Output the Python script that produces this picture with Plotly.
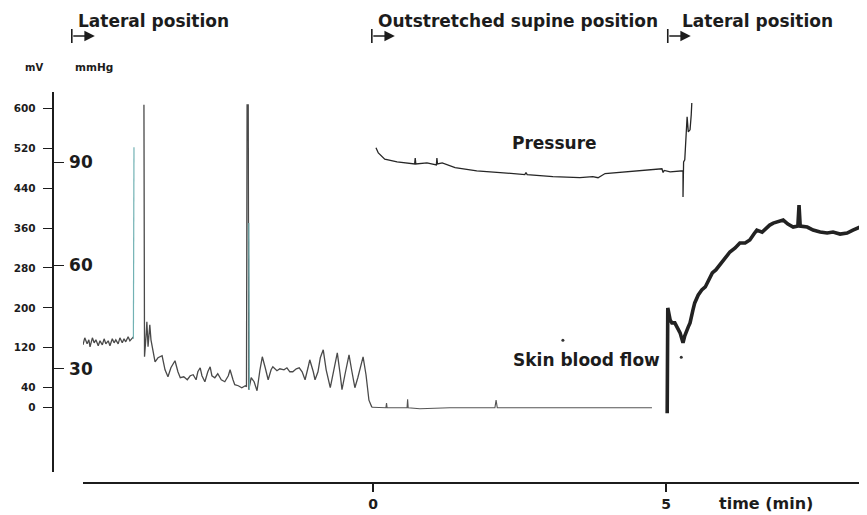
import plotly.graph_objects as go

# ---------------- data ----------------
# time in minutes (0 = change to outstretched supine position)
time_ticks = [0, 5]
mv_ticks = [0, 40, 120, 200, 280, 360, 440, 520, 600]
mmhg_ticks = [0, 30, 60, 90]

# skin blood flow, lateral position before t = 0 (mV)
flow_t_lat1 = [-4.95, -4.92, -4.88, -4.85, -4.83, -4.79, -4.76, -4.73, -4.69, -4.66, -4.62, -4.59,
               -4.56, -4.52, -4.49, -4.45, -4.42, -4.39, -4.35, -4.32, -4.28, -4.25, -4.22, -4.18,
               -4.15, -4.11, -4.09, None,
               -3.91, -3.90, -3.87, -3.86, -3.84, -3.81, -3.79, -3.75, -3.72, -3.67, -3.60, -3.55,
               -3.50, -3.45, -3.38, -3.33, -3.29, -3.23, -3.17, -3.12, -3.07, -3.02, -2.99, -2.95,
               -2.92, -2.87, -2.82, -2.78, -2.75, -2.70, -2.65, -2.59, -2.53, -2.47, -2.44, -2.39,
               -2.36, -2.30, -2.24, -2.18, -2.16, -2.15, -2.13, -2.12, -2.08, -2.03, -1.98, -1.93,
               -1.89, -1.84, -1.79, -1.74, -1.71, -1.64, -1.59, -1.52, -1.47, -1.42, -1.37, -1.31,
               -1.26, -1.21, -1.16, -1.11, -1.08, -1.02, -0.99, -0.94, -0.90, -0.85, -0.80, -0.73,
               -0.68, -0.61, -0.56, -0.53, -0.48, -0.41, -0.36, -0.31, -0.26, -0.17, -0.12, -0.07,
               -0.02]
flow_mv_lat1 = [126, 140, 128, 136, 122, 140, 130, 136, 124, 134, 126, 138,
                128, 134, 124, 138, 130, 136, 128, 140, 130, 138, 132, 142,
                134, 140, 142, None,
                607, 102, 150, 172, 122, 166, 136, 112, 92, 100, 104, 76,
                62, 80, 94, 72, 60, 62, 56, 64, 66, 56, 72, 80,
                64, 52, 72, 82, 64, 60, 68, 56, 52, 64, 76, 56,
                46, 44, 40, 44, 42, 607, 607, 36, 60, 52, 34, 76,
                102, 80, 56, 76, 82, 74, 78, 76, 80, 72, 72, 78,
                80, 72, 56, 80, 96, 72, 56, 72, 100, 116, 76, 40,
                72, 110, 66, 36, 66, 106, 72, 40, 60, 102, 66, 15,
                1]

# skin blood flow, outstretched supine position (mV)
flow_t_sup = [-0.02, 0.12, 0.22, 0.23, 0.24, 0.46, 0.58, 0.59, 0.60, 0.80, 1.31, 2.08, 2.10, 2.12,
              3.02, 3.87, 4.76]
flow_mv_sup = [1, 0, 0, 9, 0, 0, 0, 17, 0, -2, 0, 0, 15, 0, 0, 0, 0]

# skin blood flow, lateral position after t = 5 (mV)
flow_t_lat2 = [5.02, 5.03, 5.07, 5.10, 5.15, 5.20, 5.24, 5.29, 5.32, 5.38, 5.41, 5.46, 5.49, 5.55,
               5.61, 5.67, 5.70, 5.75, 5.79, 5.85, 5.92, 6.01, 6.09, 6.18, 6.26, 6.35, 6.43, 6.50,
               6.55, 6.64, 6.72, 6.77, 6.83, 6.91, 7.00, 7.08, 7.17, 7.25, 7.27, 7.29, 7.41, 7.51,
               7.63, 7.75, 7.85, 7.97, 8.09, 8.19, 8.31, 8.43]
flow_mv_lat2 = [-11, 200, 176, 170, 170, 160, 150, 130, 144, 162, 170, 196, 210, 226,
                236, 242, 250, 260, 270, 276, 286, 300, 312, 320, 330, 330, 336, 348,
                356, 352, 362, 366, 370, 372, 376, 368, 362, 364, 406, 364, 362, 356,
                352, 350, 352, 348, 350, 356, 362, 364]

# fast pen excursions (lighter ink) during the first lateral position (mV)
pen_t = [-4.09, -4.08, None, -2.12, -2.11]
pen_mv = [138, 522, None, 370, 36]

# stray ink dots (mV)
dot_t = [3.24, 5.26]
dot_mv = [135, 101]

# pressure during supine position (mmHg)
press_t = [0.05, 0.09, 0.20, 0.41, 0.71, 0.72, 0.73, 0.92, 1.08, 1.09, 1.10, 1.18, 1.40, 1.77,
           2.17, 2.59, 2.61, 2.63, 3.07, 3.53, 3.75, 3.84, 3.96, 4.27, 4.68, 4.93, 4.95, 4.97,
           5.07, 5.29, 5.29, 5.30, 5.32, 5.34, 5.36, 5.38, 5.41, 5.43, 5.44]
press_mmhg = [94.2, 92.7, 90.9, 90.1, 89.5, 91.2, 89.5, 89.8, 89.2, 91.2, 89.5, 89.8, 88.4, 87.5,
              87.0, 86.4, 87.0, 86.4, 85.8, 85.5, 85.8, 85.5, 86.7, 87.2, 87.8, 88.1, 87.0, 87.6,
              87.2, 87.5, 79.9, 90.1, 90.7, 97.9, 103.2, 98.8, 99.4, 103.7, 107.2]

# position phases (start time in min)
phase_labels = ["Lateral position", "Outstretched supine position", "Lateral position"]
phase_start = [-5.14, -0.02, 5.03]
phase_label_start = [-5.07, 0.05, 5.24]

# ---------------- figure ----------------
OFF = 8                      # page body margin of the html page
SCREEN_W, SCREEN_H = 867, 515
W, H = SCREEN_W - OFF, SCREEN_H - OFF
INK = "#1c1c1c"
FONT = "DejaVu Sans"

X_RANGE = [-4.95, 8.43]
MV_RANGE = [-128.9, 632.7]
MMHG_RANGE = [-0.02, 110.4]
X0_PX, PX_PER_MIN = 373, 58.6     # screen layout of the time axis


def px(p):
    return (p - OFF) / W


def py(p):
    return 1 - (p - OFF) / H


def t_to_paper(t):
    return px(X0_PX + t * PX_PER_MIN)


Y_DOMAIN = [py(472), py(92)]
Y_POS = px(52.5)

fig = go.Figure()
fig.add_trace(go.Scatter(x=flow_t_lat1, y=flow_mv_lat1, mode="lines", connectgaps=False,
                         line=dict(color="#4a4a4a", width=1.3), xaxis="x", yaxis="y"))
fig.add_trace(go.Scatter(x=pen_t, y=pen_mv, mode="lines", connectgaps=False,
                         line=dict(color="#72b2b4", width=1.2), xaxis="x", yaxis="y"))
fig.add_trace(go.Scatter(x=flow_t_sup, y=flow_mv_sup, mode="lines",
                         line=dict(color="#555555", width=1.1), xaxis="x", yaxis="y"))
fig.add_trace(go.Scatter(x=flow_t_lat2, y=flow_mv_lat2, mode="lines",
                         line=dict(color="#222222", width=3.6), xaxis="x", yaxis="y"))
fig.add_trace(go.Scatter(x=dot_t, y=dot_mv, mode="markers",
                         marker=dict(color="#333333", size=3), xaxis="x", yaxis="y"))
fig.add_trace(go.Scatter(x=press_t, y=press_mmhg, mode="lines",
                         line=dict(color="#262626", width=1.3), xaxis="x", yaxis="y2"))

annotations = []
shapes = []
for lab, t0, tl in zip(phase_labels, phase_start, phase_label_start):
    annotations.append(dict(text=lab, x=t_to_paper(tl), y=py(21), xref="paper", yref="paper",
                            xanchor="left", yanchor="middle", showarrow=False,
                            font=dict(family=FONT, size=17, color=INK, weight="bold")))
    annotations.append(dict(text="", x=t_to_paper(t0) + 23 / W, y=py(36), xref="paper",
                            yref="paper", ax=-23, ay=0, axref="pixel", ayref="pixel",
                            showarrow=True, arrowhead=2, arrowsize=1.3, arrowwidth=1.6,
                            arrowcolor=INK))
    shapes.append(dict(type="line", xref="paper", yref="paper", x0=t_to_paper(t0),
                       x1=t_to_paper(t0), y0=py(43), y1=py(29),
                       line=dict(color=INK, width=1.6)))

annotations += [
    dict(text="Pressure", x=3.09, y=95.5, xref="x", yref="y2", showarrow=False,
         yanchor="middle", font=dict(family=FONT, size=17, color=INK, weight="bold")),
    dict(text="Skin blood flow", x=3.64, y=96, xref="x", yref="y", showarrow=False,
         yanchor="middle", font=dict(family=FONT, size=17, color=INK, weight="bold")),
    dict(text="mV", x=px(23), y=py(67), xref="paper", yref="paper", showarrow=False,
         yanchor="middle", font=dict(family=FONT, size=10, color=INK, weight="bold")),
    dict(text="mmHg", x=px(73), y=py(67), xref="paper", yref="paper", showarrow=False,
         xanchor="left", yanchor="middle",
         font=dict(family=FONT, size=10.5, color=INK, weight="bold")),
    dict(text="time (min)", x=px(815), y=py(503), xref="paper", yref="paper", showarrow=False,
         yanchor="middle", font=dict(family=FONT, size=16, color=INK, weight="bold")),
]

fig.update_layout(
    width=W, height=H, autosize=False,
    margin=dict(l=0, r=0, t=0, b=0),
    paper_bgcolor="white", plot_bgcolor="rgba(0,0,0,0)",
    showlegend=False,
    xaxis=dict(domain=[px(83), 1], range=X_RANGE, anchor="free", position=py(483),
               showline=True, linecolor=INK, linewidth=1.5, ticks="outside", ticklen=8,
               tickwidth=1.5, tickcolor=INK, tickvals=time_ticks,
               tickfont=dict(family=FONT, size=14, color=INK, weight="bold"),
               ticklabelstandoff=0, showgrid=False, zeroline=False, automargin=False),
    yaxis=dict(domain=Y_DOMAIN, range=MV_RANGE, anchor="free", position=Y_POS, side="left",
               showline=True, linecolor=INK, linewidth=1.5, ticks="outside", ticklen=9,
               tickwidth=1.3, tickcolor=INK, tickvals=mv_ticks,
               tickfont=dict(family=FONT, size=10.5, color=INK, weight="bold"),
               ticklabelstandoff=5, showgrid=False, zeroline=False, automargin=False),
    yaxis2=dict(range=MMHG_RANGE, overlaying="y", anchor="free", position=Y_POS, side="left",
                showline=False, ticks="inside", ticklen=10, tickwidth=1.3, tickcolor=INK,
                ticklabelposition="inside", tickvals=mmhg_ticks,
                tickfont=dict(family=FONT, size=17, color=INK, weight="bold"),
                ticklabelstandoff=6, showgrid=False, zeroline=False, automargin=False),
    annotations=annotations,
    shapes=shapes,
)

fig.write_html("out.html")
